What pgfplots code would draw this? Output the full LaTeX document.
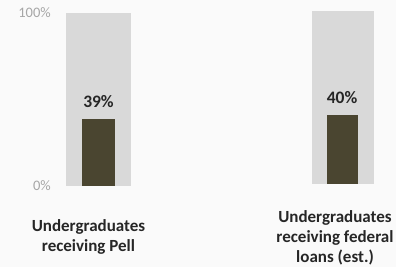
\documentclass[border=0pt]{standalone}
\usepackage{pgfplots}
\pgfplotsset{compat=1.18}
\usepackage{fontspec}
\setmainfont{Carlito}
\definecolor{bg}{HTML}{FAFAFA}
\definecolor{track}{HTML}{D9D9D9}
\definecolor{barc}{HTML}{4A4530}
\definecolor{tickc}{HTML}{A6A6A6}
\definecolor{txt}{HTML}{262626}
\pgfplotsset{
  base/.style={
    scale only axis, width=396pt, height=267pt,
    xmin=0, xmax=396, ymin=-46.8208, ymax=107.5145,
    hide axis, clip=false, anchor=south west,
  },
}
\tikzset{
  valfont/.style={font=\fontsize{17.5}{20}\selectfont\bfseries, text=txt, anchor=base, inner sep=0pt},
  catfont/.style={font=\fontsize{17}{20}\selectfont\bfseries, text=txt, align=center, anchor=north, inner sep=0pt},
  tickfont/.style={font=\fontsize{14.5}{17}\selectfont, text=tickc, anchor=east, inner sep=0pt},
}
\begin{document}
\begin{tikzpicture}
\fill[bg] (0,0) rectangle (396pt,267pt);
\begin{axis}[base, at={(0,0)}]
\addplot[ybar, bar shift=0pt, bar width=65pt, fill=track, draw=none] coordinates {(98.5,100)};
\addplot[ybar, bar shift=0pt, bar width=33pt, fill=barc, draw=none] coordinates {(98.5,39)};
\node[tickfont] at (axis cs:51,100) {100\%};
\node[tickfont] at (axis cs:51,0) {0\%};
\node[valfont] at (axis cs:98.5,39) [yshift=11pt] {39\%};
\end{axis}
\begin{axis}[base, at={(0,2pt)}]
\addplot[ybar, bar shift=0pt, bar width=62pt, fill=track, draw=none] coordinates {(343,100)};
\addplot[ybar, bar shift=0pt, bar width=31pt, fill=barc, draw=none] coordinates {(342.5,40)};
\node[valfont] at (axis cs:342,40) [yshift=11pt] {40\%};
\end{axis}
\node[catfont] at (88.5pt,267pt-219pt) {Undergraduates\\receiving Pell};
\node[catfont] at (335pt,267pt-210.5pt) {Undergraduates\\receiving federal\\loans (est.)};
\pgfresetboundingbox
\path[use as bounding box] (0,0) rectangle (396pt,267pt);
\end{tikzpicture}
\end{document}
